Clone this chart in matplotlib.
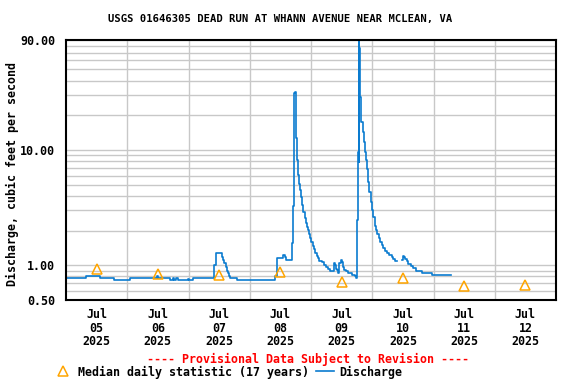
import matplotlib
matplotlib.use("Agg")
import matplotlib.pyplot as plt
import matplotlib.dates as mdates
from matplotlib.ticker import NullFormatter
import numpy as np
import pandas as pd

# discharge: hours after 2025-07-05 00:00, cfs
hours = [0, 7.8, 13.3, 18.9, 25.1, 35.5, 36.0, 40.7, 41.9, 42.4, 43.2, 43.7,
         47.7, 48.2, 49.9, 58.1, 58.6, 61.2, 61.7, 62.1, 62.6, 63.0, 63.4,
         63.9, 64.2, 66.9, 82.0, 82.5, 85.1, 85.8, 86.3, 88.6, 88.9, 89.3,
         89.7, 90.0, 90.5, 90.9, 91.3, 91.8, 92.2, 92.6, 93.0, 93.5, 93.9,
         94.3, 94.7, 95.1, 95.6, 96.1, 96.6, 97.2, 97.7, 98.2, 98.7, 99.2,
         100.4, 101.1, 101.9, 102.8, 103.4, 104.9, 105.4, 105.8, 106.3,
         106.7, 107.1, 107.6, 108.3, 108.7, 109.0, 109.7, 110.4, 111.9,
         113.2, 113.5, 114.1, 114.4, 114.7, 114.9, 115.0, 115.3, 115.7,
         116.2, 116.8, 117.1, 117.5, 117.9, 118.3, 118.8, 119.4, 119.9,
         120.4, 121.0, 121.5, 122.0, 122.5, 123.0, 123.7, 124.3, 125.1,
         125.9, 126.7, 127.6, 128.2, 128.9, 129.6, 131.6, 132.2, 132.6,
         132.9, 133.5, 134.1, 135.0, 136.1, 137.1, 139.6, 143.3, 150.7]
flow = [0.77, 0.81, 0.77, 0.74, 0.77, 0.80, 0.77, 0.74, 0.77, 0.74, 0.77, 0.74,
        0.76, 0.74, 0.77, 1.0, 1.27, 1.19, 1.11, 1.04, 0.96, 0.90, 0.85,
        0.81, 0.77, 0.74, 0.81, 1.16, 1.22, 1.17, 1.11, 1.56, 3.3, 31.3,
        32.0, 12.6, 8.2, 6.07, 5.07, 4.5, 3.94, 3.34, 2.92, 2.55, 2.34,
        2.16, 2.02, 1.87, 1.71, 1.60, 1.47, 1.38, 1.29, 1.21, 1.16, 1.10,
        1.06, 1.01, 0.96, 0.92, 0.90, 1.04, 1.0, 0.93, 0.91,
        0.85, 1.04, 1.11, 1.06, 0.97, 0.91, 0.89, 0.85, 0.83,
        0.81, 0.78, 2.47, 9.7, 95.0, 7.8, 77.0, 29.1, 17.6,
        14.4, 11.8, 9.7, 8.2, 6.9, 5.3, 4.35, 3.56, 3.0,
        2.64, 2.21, 2.02, 1.86, 1.71, 1.60, 1.50, 1.40, 1.33,
        1.28, 1.22, 1.17, 1.13, 1.10, np.nan, 1.11, 1.21, 1.17,
        1.13, 1.08, 1.03, 0.99, 0.94, 0.90, 0.85, 0.82, 0.82]

# median daily statistic, one per day at noon
median_days = ["2025-07-05", "2025-07-06", "2025-07-07", "2025-07-08",
               "2025-07-09", "2025-07-10", "2025-07-11", "2025-07-12"]
median_vals = [0.92, 0.84, 0.82, 0.87, 0.72, 0.77, 0.66, 0.68]

start = pd.Timestamp("2025-07-05")
t = start + pd.to_timedelta(hours, unit="h")
tm = pd.to_datetime(median_days) + pd.Timedelta(hours=12)

mono = "DejaVu Sans Mono"
blue = "#0a7bcf"
orange = "#ffa500"

fig = plt.figure(figsize=(5.76, 3.84), dpi=100)
ax = fig.add_axes([66/576, 1-300/384, 490/576, 260/384])

ax.step(t, flow, where="post", color=blue, lw=1.2, zorder=3)
ax.plot(tm, median_vals, linestyle="none", marker="^", markersize=7,
        markerfacecolor="none", markeredgecolor=orange, markeredgewidth=1.1,
        zorder=4)

ax.set_yscale("log")
ax.set_ylim(0.5, 90)
ax.set_xlim(start, start + pd.Timedelta(days=8))

ax.set_yticks([0.5, 1, 10, 90])
ax.set_yticklabels(["0.50", "1.00", "10.00", "90.00"])
minor_y = [0.6, 0.7, 0.8, 0.9] + list(range(2, 10)) + list(range(20, 90, 10))
ax.set_yticks(minor_y, minor=True)
ax.yaxis.set_minor_formatter(NullFormatter())

ax.set_xticks(tm)
ax.set_xticklabels([d.strftime("%b\n%d\n%Y") for d in tm])
ax.set_xticks(pd.date_range("2025-07-06", periods=7, freq="D"), minor=True)

# gridlines: every y tick, but x only at midnights
ax.yaxis.grid(True, which="both", color="#c8c8c8", lw=1.0)
ax.xaxis.grid(True, which="minor", color="#c8c8c8", lw=1.0)
ax.set_axisbelow(True)
ax.tick_params(which="both", length=0)
ax.tick_params(axis="y", pad=8)
ax.tick_params(axis="x", pad=6)
for lab in ax.get_xticklabels() + ax.get_yticklabels():
    lab.set_fontfamily(mono)
    lab.set_fontweight("bold")
    lab.set_fontsize(8.4)
for lab in ax.get_xticklabels():
    lab.set_linespacing(1.05)
for s in ax.spines.values():
    s.set_linewidth(1.5)
    s.set_zorder(5)

fig.text(0.486, 1-19/384, "USGS 01646305 DEAD RUN AT WHANN AVENUE NEAR MCLEAN, VA",
         ha="center", va="center", family=mono, weight="bold", fontsize=7.6)
fig.text(12/576, 0.547, "Discharge, cubic feet per second", rotation=90,
         ha="center", va="center", family=mono, weight="bold", fontsize=8.4)
fig.text(308/576, 1-359/384, "---- Provisional Data Subject to Revision ----",
         ha="center", va="center", family=mono, weight="bold", fontsize=8.4,
         color="red")

h_med = plt.Line2D([], [], linestyle="none", marker="^", markersize=7,
                   markerfacecolor="none", markeredgecolor=orange,
                   markeredgewidth=1.1)
h_q = plt.Line2D([], [], color=blue, lw=1.2)
fig.legend([h_med, h_q], ["Median daily statistic (17 years)", "Discharge"],
           loc="center", bbox_to_anchor=(228/576, 1-372/384), ncol=2,
           frameon=False, handlelength=1.6, handletextpad=0.4,
           columnspacing=0.6, borderpad=0, borderaxespad=0,
           prop={"family": mono, "weight": "bold", "size": 8.4})

fig.savefig("out.png", dpi=100)
